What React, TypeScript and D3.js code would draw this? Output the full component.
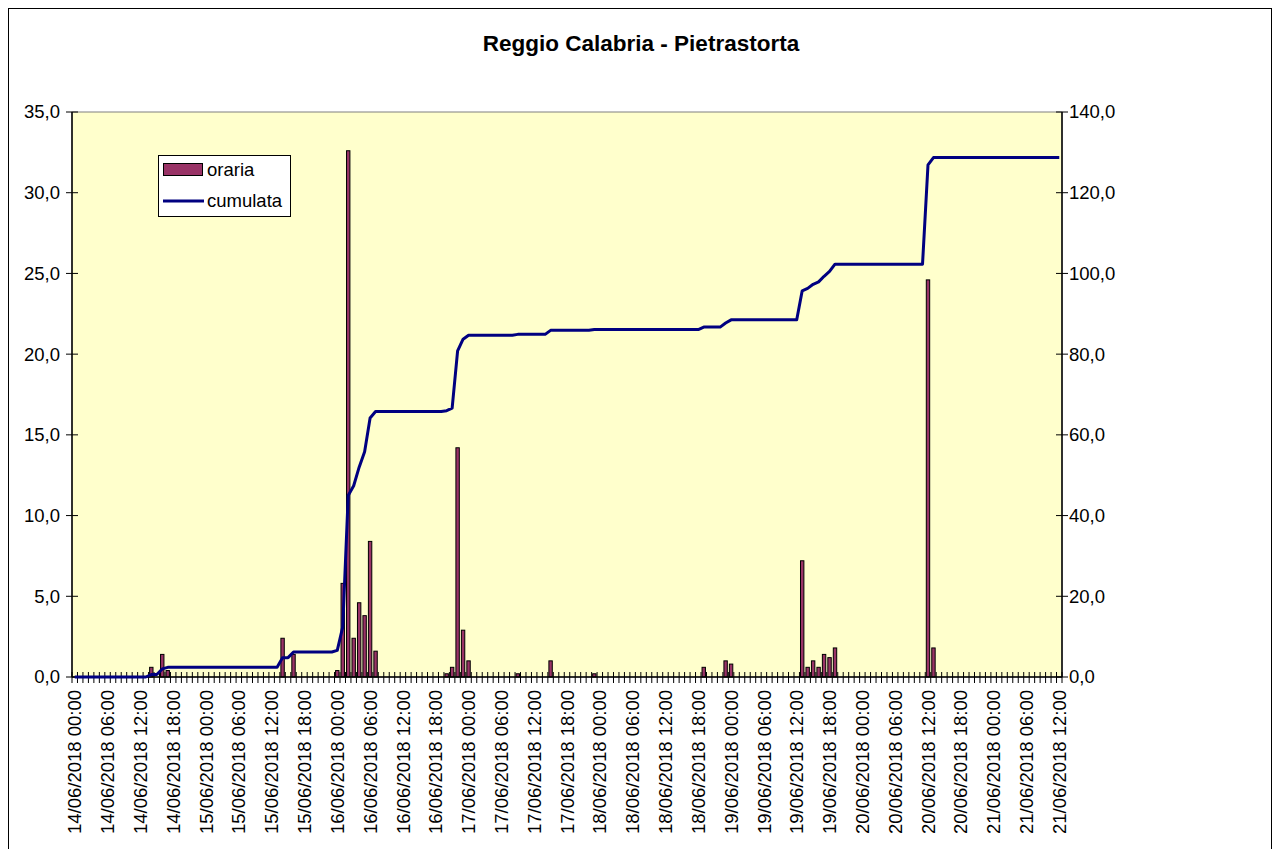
import React from "react";
import * as d3 from "d3";

// ---- data ----
const TITLE = "Reggio Calabria - Pietrastorta";
const START = new Date(2018, 5, 14, 0, 0);
const N_HOURS = 181; // 14/06/2018 00:00 .. 21/06/2018 12:00
const LABEL_EVERY = 6;

// hourly rain (mm), only non-zero hours listed (hour index from start)
const rainHours = [14, 16, 17, 38, 40, 48, 49, 50, 51, 52, 53, 54, 55, 68, 69, 70, 71, 72, 81, 87, 95, 115, 119, 120, 133, 134, 135, 136, 137, 138, 139, 156, 157];
const rainValues = [0.6, 1.4, 0.4, 2.4, 1.4, 0.4, 5.8, 32.6, 2.4, 4.6, 3.8, 8.4, 1.6, 0.2, 0.6, 14.2, 2.9, 1.0, 0.2, 1.0, 0.2, 0.6, 1.0, 0.8, 7.2, 0.6, 1.0, 0.6, 1.4, 1.2, 1.8, 24.6, 1.8];

const leftTicks = [0, 5, 10, 15, 20, 25, 30, 35];
const rightTicks = [0, 20, 40, 60, 80, 100, 120, 140];

const SERIES_BAR = "oraria";
const SERIES_LINE = "cumulata";

export default function App() {
  const W = 1275, H = 849;
  const plot = { left: 72, right: 1062, top: 112, bottom: 677 };

  const times = d3.timeHour.range(START, d3.timeHour.offset(START, N_HOURS));
  const idx = d3.range(times.length);
  const hourly = idx.map(() => 0);
  rainHours.forEach((h, k) => { hourly[h] = rainValues[k]; });
  const cumul = Array.from(d3.cumsum(hourly));

  const x = d3.scaleBand<number>().domain(idx).range([plot.left, plot.right]).padding(0);
  const step = x.step();
  const cx = (i: number) => (x(i) as number) + step / 2;
  const yL = d3.scaleLinear().domain([0, 35]).range([plot.bottom, plot.top]);
  const yR = d3.scaleLinear().domain([0, 140]).range([plot.bottom, plot.top]);
  const fmt = (v: number) => d3.format(".1f")(v).replace(".", ",");
  const tfmt = d3.timeFormat("%d/%m/%Y %H:%M");

  const barW = step * 0.62;
  const line = d3.line<number>().x((_, i) => cx(i)).y((d) => yR(d));

  const font = "Arial, 'Liberation Sans', sans-serif";
  const fs = 18.5;

  return (
    <svg width={W} height={H} style={{ position: "fixed", left: 0, top: 0, background: "#fff" }} fontFamily={font}>
      <rect x={8.5} y={8.5} width={1263} height={860} fill="#fff" stroke="#000" strokeWidth={1} />
      <text x={641} y={51} textAnchor="middle" fontSize={22.5} fontWeight="bold">{TITLE}</text>
      {/* plot area */}
      <rect x={plot.left} y={plot.top} width={plot.right - plot.left} height={plot.bottom - plot.top} fill="#FFFFCC" stroke="#808080" strokeWidth={1} />
      {/* bars */}
      {idx.filter((i) => hourly[i] > 0).map((i) => (
        <rect key={"b" + i} x={cx(i) - barW / 2} y={yL(hourly[i])} width={barW} height={yL(0) - yL(hourly[i])} fill="#993366" stroke="#000" strokeWidth={1} />
      ))}
      {/* x axis */}
      <line x1={plot.left} x2={plot.right} y1={plot.bottom} y2={plot.bottom} stroke="#000" strokeWidth={1.5} />
      {d3.range(times.length + 1).map((i) => {
        const xx = plot.left + i * step;
        return <line key={"t" + i} x1={xx} x2={xx} y1={plot.bottom - 5} y2={plot.bottom + 6} stroke="#000" strokeWidth={1} />;
      })}
      {idx.filter((i) => i % LABEL_EVERY === 0).map((i) => (
        <text key={"l" + i} transform={`translate(${cx(i)},${690}) rotate(-90)`} textAnchor="end" dy="0.36em" fontSize={fs}>{tfmt(times[i])}</text>
      ))}
      {/* left axis */}
      <line x1={plot.left} x2={plot.left} y1={plot.top} y2={plot.bottom} stroke="#000" strokeWidth={1.5} />
      {leftTicks.map((t) => (
        <g key={"yl" + t}>
          <line x1={plot.left - 6} x2={plot.left + 6} y1={yL(t)} y2={yL(t)} stroke="#000" />
          <text x={plot.left - 12} y={yL(t)} dy="0.35em" textAnchor="end" fontSize={fs}>{fmt(t)}</text>
        </g>
      ))}
      {/* right axis */}
      <line x1={plot.right} x2={plot.right} y1={plot.top} y2={plot.bottom} stroke="#000" strokeWidth={1.5} />
      {rightTicks.map((t) => (
        <g key={"yr" + t}>
          <line x1={plot.right - 6} x2={plot.right + 6} y1={yR(t)} y2={yR(t)} stroke="#000" />
          <text x={plot.right + 7} y={yR(t)} dy="0.35em" textAnchor="start" fontSize={fs}>{fmt(t)}</text>
        </g>
      ))}
      {/* cumulative line */}
      <path d={line(cumul) || ""} fill="none" stroke="#000080" strokeWidth={3} strokeLinejoin="round" />
      {/* legend */}
      <rect x={158.5} y={155.5} width={132} height={61} fill="#fff" stroke="#000" strokeWidth={1} />
      <rect x={163.5} y={163.5} width={39} height={12} fill="#993366" stroke="#000" strokeWidth={1} />
      <text x={207} y={170} dy="0.35em" fontSize={fs}>{SERIES_BAR}</text>
      <line x1={163} x2={204} y1={201} y2={201} stroke="#000080" strokeWidth={3} />
      <text x={207} y={201} dy="0.35em" fontSize={fs}>{SERIES_LINE}</text>
    </svg>
  );
}
